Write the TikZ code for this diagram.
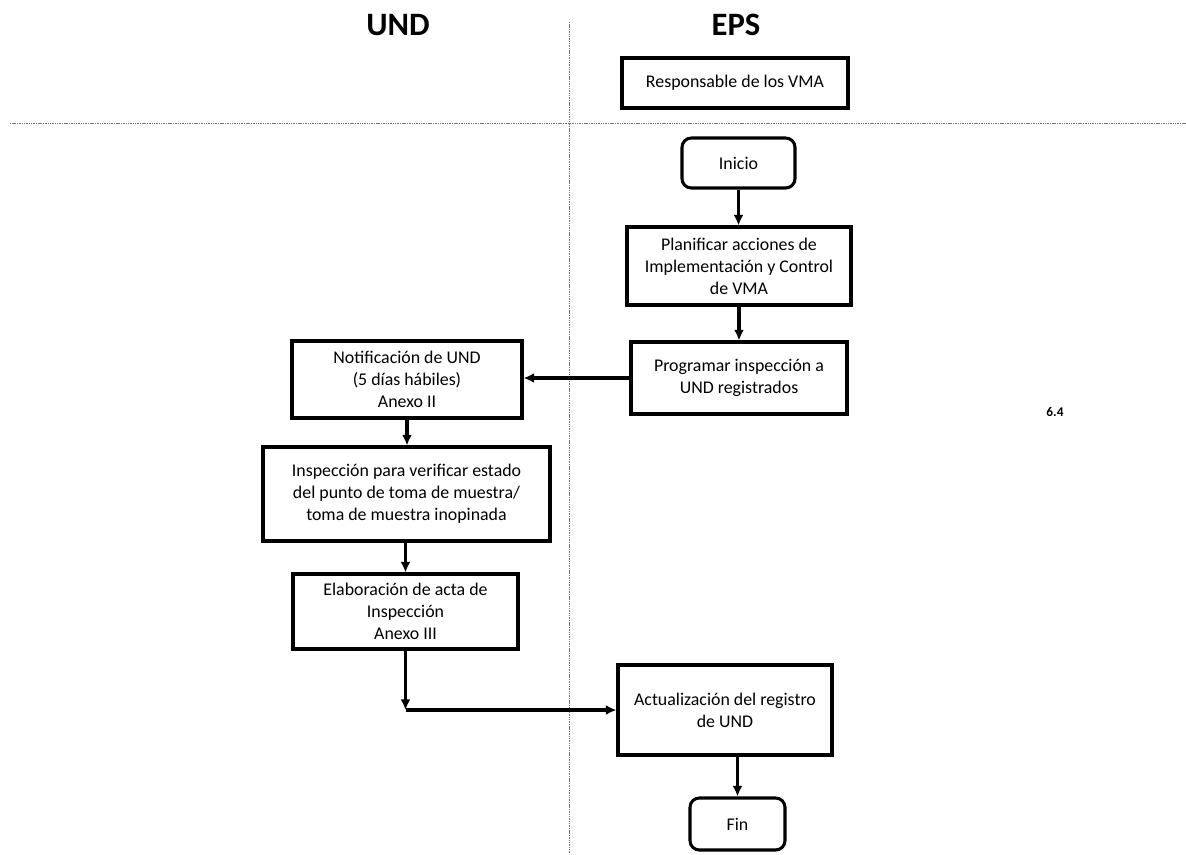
\documentclass[tikz,border=0pt]{standalone}
\usepackage{fontspec}
\setmainfont{Carlito}
\usetikzlibrary{arrows.meta}
\begin{document}
\begin{tikzpicture}[x=0.75pt,y=-0.75pt,
  box/.style={draw, line width=2.3pt, align=center, inner sep=0pt,
    font=\fontsize{13.4}{16.5}\selectfont},
  term/.style={box, rounded corners=7pt},
  flow/.style={line width=2.3pt, -{Latex[length=8pt,width=7.5pt]}},
  lane/.style={black!55, line width=0.7pt, dash pattern=on 0.8pt off 0.5pt},
  head/.style={font=\bfseries\fontsize{24.5}{28}\selectfont}]
\useasboundingbox (0,0) rectangle (1186,854);
% swimlane lines
\coordinate (vtop) at (569,22);
\coordinate (vbot) at (569,854);
\coordinate (hl) at (10,123);
\coordinate (hr) at (1186,123);
\draw[lane] (vtop) -- (vbot);
\draw[lane] (hl) -- (hr);
% headers
\node[head] (und) at (398,25) {UND};
\node[head] (eps) at (736,25) {EPS};
\node[box, minimum width=169.5pt, minimum height=37.5pt] (resp) at (735,83) {Responsable de los VMA};
\node[font=\bfseries\fontsize{10}{12}\selectfont] (num) at (1055,412) {6.4};
% flow nodes
\node[term, minimum width=84.75pt, minimum height=37.5pt] (inicio) at (738.5,163) {Inicio};
\node[box, minimum width=168pt, minimum height=58.5pt] (plan) at (739,266) {Planificar acciones de\\Implementación y Control\\de VMA};
\node[box, minimum width=162pt, minimum height=54pt] (prog) at (739,378) {Programar inspección a\\UND registrados};
\node[box, minimum width=172.5pt, minimum height=57.75pt] (notif) at (407,379.5) {Notificación de UND\\(5 días hábiles)\\Anexo II};
\node[box, minimum width=215.25pt, minimum height=70.5pt] (insp) at (406.5,494) {Inspección para verificar estado\\del punto de toma de muestra/\\toma de muestra inopinada};
\node[box, minimum width=168.75pt, minimum height=56.25pt] (elab) at (405.5,611.5) {Elaboración de acta de\\Inspección\\Anexo III};
\node[box, minimum width=160.5pt, minimum height=67.5pt] (act) at (725,710) {Actualización del registro\\de UND};
\node[term, minimum width=71.25pt, minimum height=39pt] (fin) at (737.5,824) {Fin};
% connectors
\coordinate (corner) at (elab.south |- act.west);
\draw[flow] (inicio) -- (inicio |- plan.north);
\draw[flow] (plan) -- (plan |- prog.north);
\draw[flow] (prog.west) -- (prog.west -| notif.east);
\draw[flow] (notif.south) -- (notif.south |- insp.north);
\draw[flow] (elab.north |- insp.south) -- (elab.north);
\draw[flow] (elab.south) -- (corner);
\draw[flow] (corner) -- (act.west);
\draw[flow] (fin.north |- act.south) -- (fin.north);
\end{tikzpicture}
\end{document}
